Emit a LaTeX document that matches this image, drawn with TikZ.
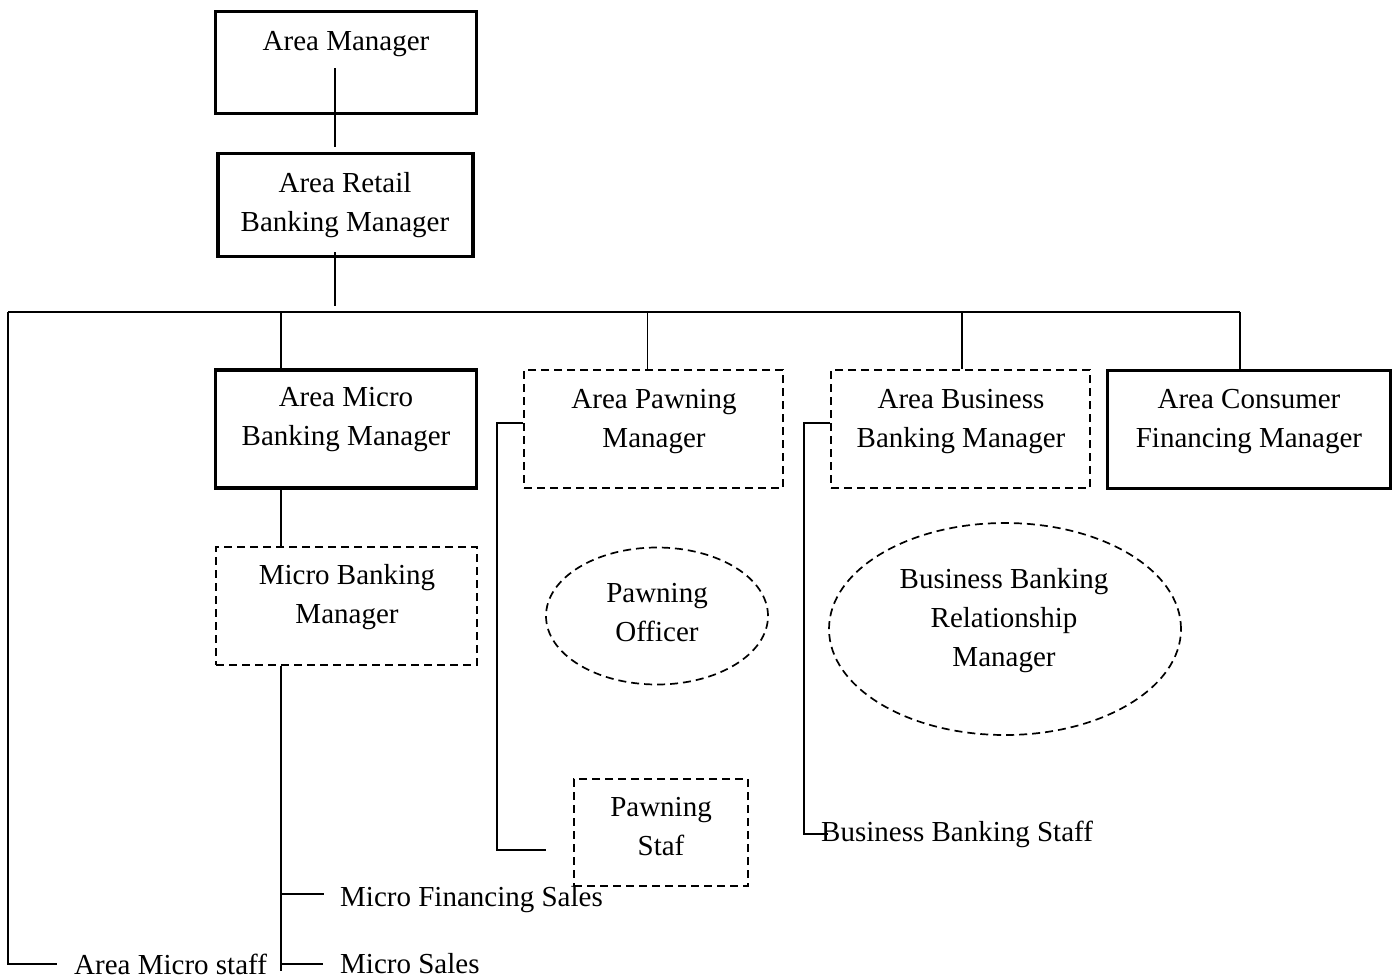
\documentclass[tikz,border=0pt]{standalone}
\usepackage{fontspec}
\setmainfont{Liberation Serif}
\usetikzlibrary{shapes.geometric}
\tikzset{
  solidbox/.style={draw, rectangle, line width=3.5pt, inner sep=0pt},
  dashbox/.style={draw, rectangle, line width=1.7pt, dash pattern=on 8pt off 5pt, inner sep=0pt},
  dashoval/.style={draw, ellipse, line width=1.7pt, dash pattern=on 8pt off 5pt, inner sep=0pt},
  txt/.style={align=center, inner sep=0pt, font=\fontsize{29}{39}\selectfont},
  leaf/.style={anchor=west, inner sep=0pt, font=\fontsize{29}{39}\selectfont},
  conn/.style={line width=1.8pt},
}
\begin{document}
\begin{tikzpicture}[x=1pt,y=-1pt]
\useasboundingbox (0,0) rectangle (1397,978);
% boxes and ovals
\node[solidbox, minimum width=261, minimum height=102] (am) at (346,62.5) {};
\node[solidbox, minimum width=255, minimum height=103] (arbm) at (345.5,205) {};
\node[solidbox, minimum width=261, minimum height=118] (ambm) at (346,429) {};
\node[dashbox, minimum width=259, minimum height=118] (apm) at (653.5,429) {};
\node[dashbox, minimum width=259, minimum height=118] (abbm) at (960.5,429) {};
\node[solidbox, minimum width=283, minimum height=118] (acfm) at (1249,429.5) {};
\node[dashbox, minimum width=261, minimum height=118] (mbm) at (346.5,606) {};
\node[dashoval, minimum width=222, minimum height=137] (po) at (657,616) {};
\node[dashoval, minimum width=352, minimum height=212] (bbrm) at (1005,629) {};
\node[dashbox, minimum width=174, minimum height=107] (ps) at (661,832.5) {};
% titles
\node[txt] (amt) at (346,44) {Area Manager};
\node[txt] (arbmt) at (345,205) {Area Retail\\Banking Manager};
\node[txt] (ambmt) at (346,420) {Area Micro\\Banking Manager};
\node[txt] (apmt) at (654,422) {Area Pawning\\Manager};
\node[txt] (abbmt) at (961,422) {Area Business\\Banking Manager};
\node[txt] (acfmt) at (1249,422) {Area Consumer\\Financing Manager};
\node[txt] (mbmt) at (347,597.5) {Micro Banking\\Manager};
\node[txt] (pot) at (657,613) {Pawning\\Officer};
\node[txt] (bbrmt) at (1004,621) {Business Banking\\Relationship\\Manager};
\node[txt] (pst) at (661,827) {Pawning\\Staf};
\node[leaf] (mfs) at (340,900) {Micro Financing Sales};
\node[leaf] (ms) at (340,964) {Micro Sales};
\node[leaf] (ams) at (74,964) {Area Micro staff};
\node[leaf] (bbs) at (821,834) {Business Banking Staff};
% lines
\coordinate (busL) at (8,312);
\coordinate (busR) at (1240,312);
\coordinate (mend) at (281,971);
\coordinate (pbend) at (497,850);
\coordinate (bbend) at (804,834);
\draw[conn] ([xshift=-11pt,yshift=-5.5pt]am.center) -- ([xshift=-10.5pt,yshift=5pt]arbm.north);
\draw[conn] ([xshift=-10.5pt,yshift=6pt]arbm.south) -- ([xshift=-10.5pt,yshift=6pt]arbm.south |- busL);
\draw[conn] (busL) -- (busR);
\foreach \n/\dx in {ambm/-65, apm/-6, abbm/1.5, acfm/-9}
  \draw[conn] ([xshift=\dx pt]\n.north) -- ([xshift=\dx pt]\n.north |- busL);
\draw[conn] (busL) |- ([xshift=-17pt]ams.west);
\draw[conn] ([xshift=-65pt]ambm.south) -- ([xshift=-65.5pt]mbm.north);
\draw[conn] ([xshift=-65.5pt]mbm.south) -- (mend);
\draw[conn] ([yshift=6pt]mend |- mfs) -- ([xshift=-16pt,yshift=6pt]mfs.west);
\draw[conn] (mend |- ms) -- ([xshift=-17pt]ms.west);
\draw[conn] ([yshift=6pt]apm.west) -| (pbend) -- ([xshift=-27pt,yshift=-17.5pt]ps.west);
\draw[conn] ([yshift=6pt]abbm.west) -| (bbend) -- ([xshift=7pt]bbs.west);
\end{tikzpicture}
\end{document}
